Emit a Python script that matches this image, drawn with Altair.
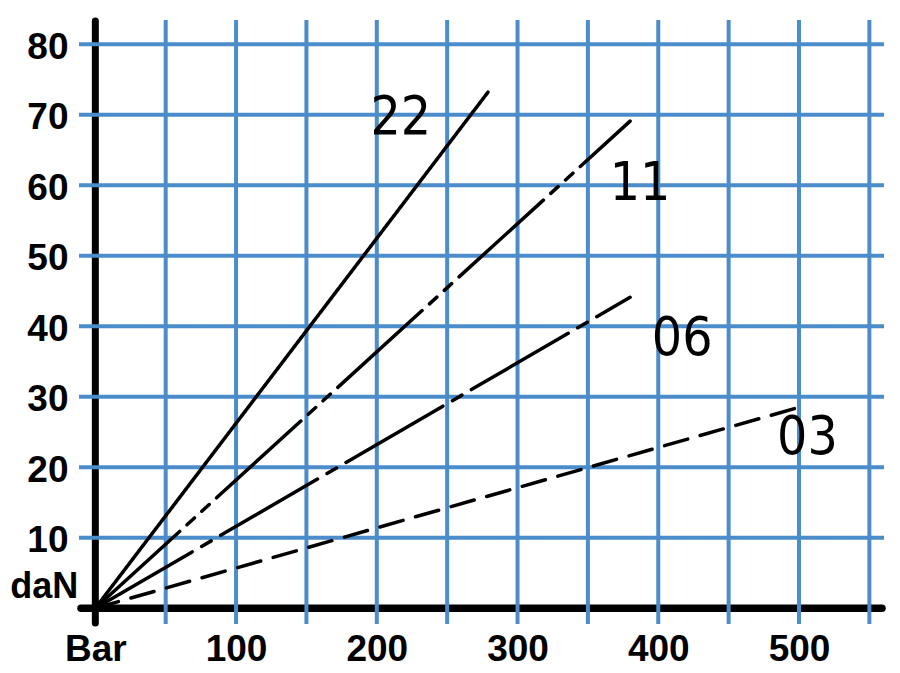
import altair as alt
import pandas as pd

# ---- data ----
series = ["22", "11", "06", "03"]
end_bar = [279, 380, 380, 500]
end_dan = [73.2, 69.1, 44.1, 28.5]
dash_patterns = [[1, 0], [114, 10, 10, 10, 10, 10], [112, 11, 11, 11], [24, 13]]

label_text = ["22", "11", "06", "03"]
label_bar = [217, 387, 417, 506]
label_dan = [69.5, 60.2, 38.2, 24.2]

x_grid = [50, 100, 150, 200, 250, 300, 350, 400, 450, 500, 550]
y_grid = [10, 20, 30, 40, 50, 60, 70, 80]
x_ticks = [0, 100, 200, 300, 400, 500]
y_ticks = [10, 20, 30, 40, 50, 60, 70, 80]
origin = [0]
x_unit_label = "Bar"
y_unit_label = "daN"
y_unit_pos = [3.0]

x_domain = [-11.6, 560.4]
y_domain = [-2.24, 83.44]

W, H = 805, 604
BLUE = "#4b8dcb"

xs = alt.Scale(domain=x_domain, nice=False, zero=False)
ys = alt.Scale(domain=y_domain, nice=False, zero=False)

x_axis = alt.Axis(
    values=x_ticks,
    labelExpr=f"datum.value == 0 ? '{x_unit_label}' : datum.label",
    domain=False, ticks=False, grid=False, title=None,
    labelFont="Liberation Sans", labelFontWeight="bold", labelFontSize=37,
    labelColor="black", labelPadding=7, labelFlush=False, labelOverlap=False,
)
y_axis = alt.Axis(
    values=y_ticks,
    domain=False, ticks=False, grid=False, title=None,
    labelFont="Liberation Sans", labelFontWeight="bold", labelFontSize=37,
    labelColor="black", labelPadding=11, labelOffset=3, labelOverlap=False,
)

rows = []
for s, bx, dy in zip(series, end_bar, end_dan):
    rows.append({"series": s, "bar": 0, "dan": 0})
    rows.append({"series": s, "bar": bx, "dan": dy})
lines_df = pd.DataFrame(rows)

labels_df = pd.DataFrame({"t": label_text, "bar": label_bar, "dan": label_dan})
xg_df = pd.DataFrame({"bar": x_grid})
yg_df = pd.DataFrame({"dan": y_grid})
o_df = pd.DataFrame({"bar": origin, "dan": origin})
unit_df = pd.DataFrame({"bar": origin, "dan": y_unit_pos, "t": [y_unit_label]})

black_x = alt.Chart(o_df).mark_rule(color="black", strokeWidth=7.5, strokeCap="round").encode(
    y=alt.Y("dan:Q", scale=ys, axis=y_axis), x=alt.value(2), x2=alt.value(W - 2)
)
black_y = alt.Chart(o_df).mark_rule(color="black", strokeWidth=7, strokeCap="round").encode(
    x=alt.X("bar:Q", scale=xs, axis=x_axis), y=alt.value(1), y2=alt.value(H - 1)
)

vgrid = alt.Chart(xg_df).mark_rule(color=BLUE, strokeWidth=4, strokeCap="butt").encode(
    x=alt.X("bar:Q", scale=xs, axis=x_axis), y=alt.value(0), y2=alt.value(H)
)
hgrid = alt.Chart(yg_df).mark_rule(color=BLUE, strokeWidth=4, strokeCap="butt").encode(
    y=alt.Y("dan:Q", scale=ys, axis=y_axis), x=alt.value(0), x2=alt.value(W)
)

lines = alt.Chart(lines_df).mark_line(color="black", strokeWidth=3.5, strokeCap="round").encode(
    x=alt.X("bar:Q", scale=xs, axis=x_axis),
    y=alt.Y("dan:Q", scale=ys, axis=y_axis),
    detail="series:N",
    strokeDash=alt.StrokeDash(
        "series:N", scale=alt.Scale(domain=series, range=dash_patterns), legend=None
    ),
)

curve_labels = alt.Chart(labels_df).mark_text(
    font="DejaVu Sans Condensed, Liberation Sans Narrow, sans-serif",
    fontSize=53, color="black", align="center", baseline="middle",
).encode(
    x=alt.X("bar:Q", scale=xs, axis=x_axis),
    y=alt.Y("dan:Q", scale=ys, axis=y_axis),
    text="t:N",
)

unit_label = alt.Chart(unit_df).mark_text(
    font="Liberation Sans", fontWeight="bold", fontSize=36, color="black",
    align="right", baseline="middle", dx=-17,
).encode(
    x=alt.X("bar:Q", scale=xs, axis=x_axis),
    y=alt.Y("dan:Q", scale=ys, axis=y_axis),
    text="t:N",
)

chart = alt.layer(
    black_x, black_y, vgrid, hgrid, lines, curve_labels, unit_label
).properties(
    width=W, height=H,
    autosize=alt.AutoSizeParams(type="none"),
    padding={"left": 71, "top": 12, "right": 8, "bottom": 49},
).configure_view(stroke=None)

chart.save("out.html", embed_options={"renderer": "svg", "actions": False})
